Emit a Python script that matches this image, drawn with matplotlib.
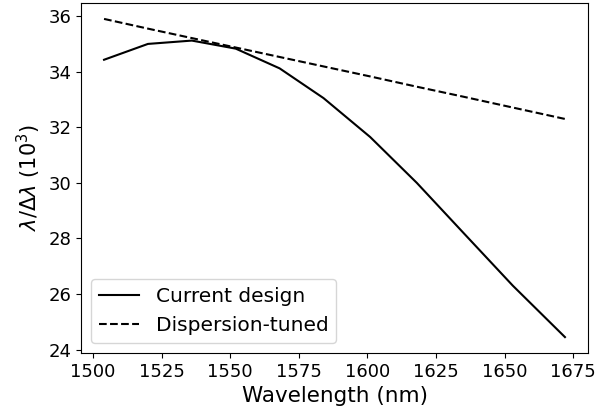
import matplotlib
matplotlib.use('Agg')
import matplotlib.pyplot as plt

wavelength = [1504, 1520, 1536, 1552, 1568, 1584, 1601, 1618, 1635, 1653, 1672]
current_design = [34.43, 35.0, 35.12, 34.83, 34.12, 33.05, 31.65, 30.0, 28.2, 26.3, 24.45]
dispersion_tuned = [35.9, 35.55, 35.21, 34.87, 34.53, 34.19, 33.83, 33.46, 33.1, 32.71, 32.3]

fig = plt.figure(figsize=(5.97, 4.17), dpi=100)
ax = fig.add_axes([81 / 597, 1 - 353 / 417, 507 / 597, 350 / 417])

ax.plot(wavelength, current_design, color='black', linestyle='-', label='Current design')
ax.plot(wavelength, dispersion_tuned, color='black', linestyle='--', label='Dispersion-tuned')

ax.set_xlabel('Wavelength (nm)', fontsize=15.5)
ax.set_ylabel(r'$\lambda/\Delta\lambda$ ($10^3$)', fontsize=15)
ax.set_xticks([1500, 1525, 1550, 1575, 1600, 1625, 1650, 1675])
ax.set_yticks([24, 26, 28, 30, 32, 34, 36])
ax.tick_params(labelsize=13)
ax.legend(loc='lower left', fontsize=14.5)

fig.savefig('out.png', dpi=100)
